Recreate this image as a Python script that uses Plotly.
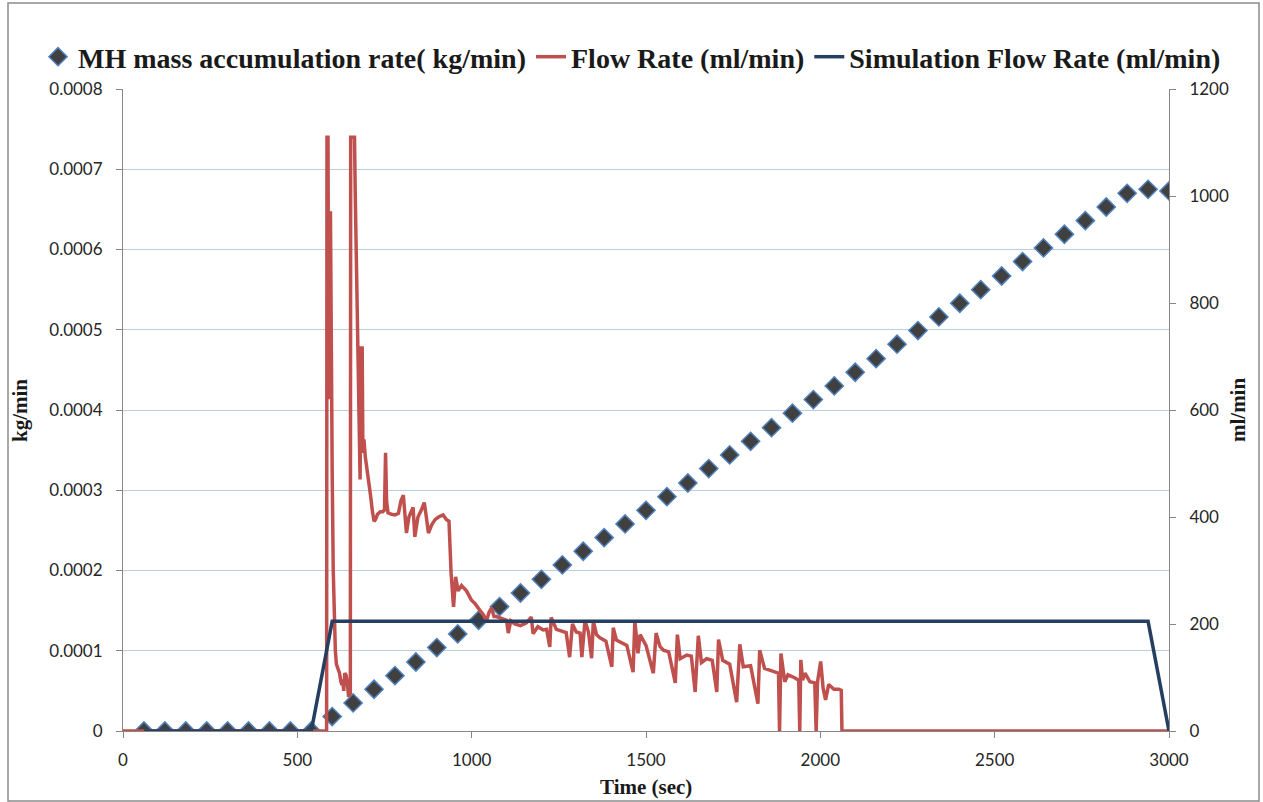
import plotly.graph_objects as go

# ---- data ----
mh_time = list(range(60, 3001, 60))
mh_rate = [0, 0, 0, 0, 0, 0, 0, 0, 0,
           0.000018, 0.000035, 0.000052, 0.000069, 0.000086, 0.000104, 0.000121, 0.000138,
           0.000155, 0.000172, 0.000189, 0.000207, 0.000224, 0.000241, 0.000258, 0.000275,
           0.000292, 0.000309, 0.000327, 0.000344, 0.000361, 0.000378, 0.000396, 0.000413,
           0.000430, 0.000447, 0.000464, 0.000482, 0.000499, 0.000516, 0.000533, 0.000550,
           0.000567, 0.000585, 0.000602, 0.000619, 0.000636, 0.000653, 0.000670, 0.000675,
           0.000673]

flow_time = [0, 584, 585, 588, 590, 592, 595, 597, 600, 603, 606, 609, 612, 615, 618, 621,
             625, 628, 630, 633, 636, 640, 644, 647, 650, 652, 653, 664, 666, 670, 674, 677,
             680, 683, 686, 688, 691, 695, 700, 705, 710, 715, 720, 724, 730, 738, 745, 750,
             753, 756, 760, 770, 780, 790, 797, 804, 808, 813, 820, 826, 832, 837, 846, 855,
             864, 870, 876, 885, 895, 905, 918, 928, 935, 941, 948, 954, 961, 971, 985, 999,
             1010, 1023, 1035, 1042, 1050, 1057, 1064, 1071, 1085, 1100, 1105, 1112, 1124,
             1140, 1157, 1171, 1176, 1190, 1205, 1215, 1224, 1228, 1243, 1260, 1271, 1281,
             1289, 1300, 1311, 1316, 1325, 1335, 1344, 1349, 1358, 1368, 1385, 1402, 1406,
             1415, 1430, 1445, 1463, 1468, 1477, 1483, 1500, 1521, 1529, 1540, 1550, 1565,
             1584, 1590, 1598, 1617, 1630, 1641, 1650, 1659, 1674, 1690, 1703, 1708, 1720,
             1740, 1760, 1769, 1779, 1800, 1821, 1826, 1840, 1860, 1880, 1883, 1887, 1898,
             1907, 1925, 1938, 1941, 1944, 1949, 1956, 1970, 1984, 1988, 1992, 2001, 2008,
             2015, 2024, 2039, 2053, 2060, 2062, 3000]
flow_rate = [0, 0, 1110, 1110, 620, 968, 968, 720, 480, 300, 205, 150, 125, 118, 112, 108,
             92, 86, 96, 75, 108, 104, 86, 64, 68, 70, 1110, 1110, 1010, 860, 700, 580,
             470, 716, 716, 520, 545, 512, 490, 462, 440, 412, 392, 395, 405, 410, 410, 413,
             520, 430, 408, 405, 404, 407, 430, 441, 412, 370, 400, 408, 418, 363, 400, 412,
             427, 400, 370, 385, 395, 400, 404, 395, 392, 295, 232, 288, 262, 272, 262, 245,
             238, 226, 216, 204, 222, 230, 214, 214, 210, 207, 183, 206, 200,
             197, 202, 213, 182, 195, 189, 190, 157, 212, 190, 186, 184, 138,
             200, 185, 183, 138, 206, 185, 136, 206, 180, 174, 168, 120, 193,
             170, 165, 160, 110, 206, 145, 180, 160, 108, 183, 158, 151, 148,
             90, 180, 135, 142, 140, 73, 178, 128, 135, 132, 73, 171, 132,
             125, 54, 162, 120, 122, 51, 151, 117, 112, 108, 0, 145, 92,
             105, 100, 95, 0, 133, 95, 108, 92, 90, 0, 92, 130, 80,
             58, 87, 78, 78, 76, 0, 0]

sim_time = [60, 540, 600, 2940, 3000]
sim_rate = [0, 0, 205, 205, 0]

left_ticks = [0, 0.0001, 0.0002, 0.0003, 0.0004, 0.0005, 0.0006, 0.0007, 0.0008]
left_labels = ["0", "0.0001", "0.0002", "0.0003", "0.0004", "0.0005", "0.0006", "0.0007", "0.0008"]
right_ticks = [0, 200, 400, 600, 800, 1000, 1200]
x_ticks = [0, 500, 1000, 1500, 2000, 2500, 3000]

# ---- figure ----
serif = "Liberation Serif, Times New Roman, serif"
sans = "Lato, Open Sans, sans-serif"

fig = go.Figure()
fig.add_trace(go.Scatter(
    x=mh_time, y=mh_rate, mode="markers", name="MH mass accumulation rate( kg/min)",
    marker=dict(symbol="diamond", size=14, color="#404040",
                line=dict(color="#4F81BD", width=1.5)),
    yaxis="y", legend="legend"))
fig.add_trace(go.Scatter(
    x=flow_time, y=flow_rate, mode="lines", name="Flow Rate (ml/min)",
    line=dict(color="#C0504D", width=3.5), yaxis="y2", legend="legend2"))
fig.add_trace(go.Scatter(
    x=sim_time, y=sim_rate, mode="lines", name="Simulation Flow Rate (ml/min)",
    line=dict(color="#243F60", width=3.5), yaxis="y2", legend="legend2"))

axis_line = "#868686"
tickfont = dict(family=sans, size=17, color="#262626")
legend_font = dict(family=serif, size=28, color="#1a1a1a", weight="bold")
legend_y = (731 - 57) / 642

fig.update_layout(
    width=1263, height=802,
    margin=dict(l=123, r=94, t=89, b=71),
    paper_bgcolor="white", plot_bgcolor="white",
    showlegend=True,
    legend=dict(orientation="h", xref="paper", yref="paper",
                x=(38 - 123) / 1046, y=legend_y, xanchor="left", yanchor="middle",
                font=legend_font, itemwidth=30, bgcolor="rgba(0,0,0,0)"),
    legend2=dict(orientation="h", xref="paper", yref="paper",
                 x=(531 - 123) / 1046, y=legend_y, xanchor="left", yanchor="middle",
                 font=legend_font, itemwidth=30, bgcolor="rgba(0,0,0,0)"),
    xaxis=dict(range=[0, 3000], tickvals=x_ticks, showgrid=False,
               showline=True, linecolor=axis_line, linewidth=1,
               ticks="outside", ticklen=6, tickcolor=axis_line,
               tickfont=tickfont, ticklabelstandoff=8, zeroline=False),
    yaxis=dict(range=[0, 0.0008], tickvals=left_ticks, ticktext=left_labels,
               showgrid=True, gridcolor="#B9CDE5", gridwidth=1,
               showline=True, linecolor=axis_line, linewidth=1,
               ticks="outside", ticklen=6, tickcolor=axis_line,
               tickfont=tickfont, ticklabelstandoff=10, zeroline=False),
    yaxis2=dict(range=[0, 1200], tickvals=right_ticks, overlaying="y", side="right",
                showgrid=False, showline=True, linecolor=axis_line, linewidth=1,
                ticks="outside", ticklen=6, tickcolor=axis_line,
                tickfont=tickfont, ticklabelstandoff=10, zeroline=False),
)

title_font = dict(family=serif, size=21, color="#1a1a1a", weight="bold")
fig.add_annotation(text="kg/min", xref="paper", yref="paper", x=-0.0985, y=0.5,
                   textangle=-90, showarrow=False, font=title_font,
                   xanchor="center", yanchor="middle")
fig.add_annotation(text="ml/min", xref="paper", yref="paper", x=1.066, y=0.5,
                   textangle=-90, showarrow=False, font=title_font,
                   xanchor="center", yanchor="middle")
fig.add_annotation(text="Time (sec)", xref="paper", yref="paper", x=0.5, y=-0.087,
                   showarrow=False, font=title_font, xanchor="center", yanchor="middle")

# outer chart border
fig.add_shape(type="rect", xref="paper", yref="paper",
              x0=(8 - 123) / 1046, x1=(1259 - 123) / 1046,
              y0=(731 - 801) / 642, y1=(731 - 3) / 642,
              line=dict(color="#8C8C8C", width=1.5), layer="below")

fig.write_html("out.html")
